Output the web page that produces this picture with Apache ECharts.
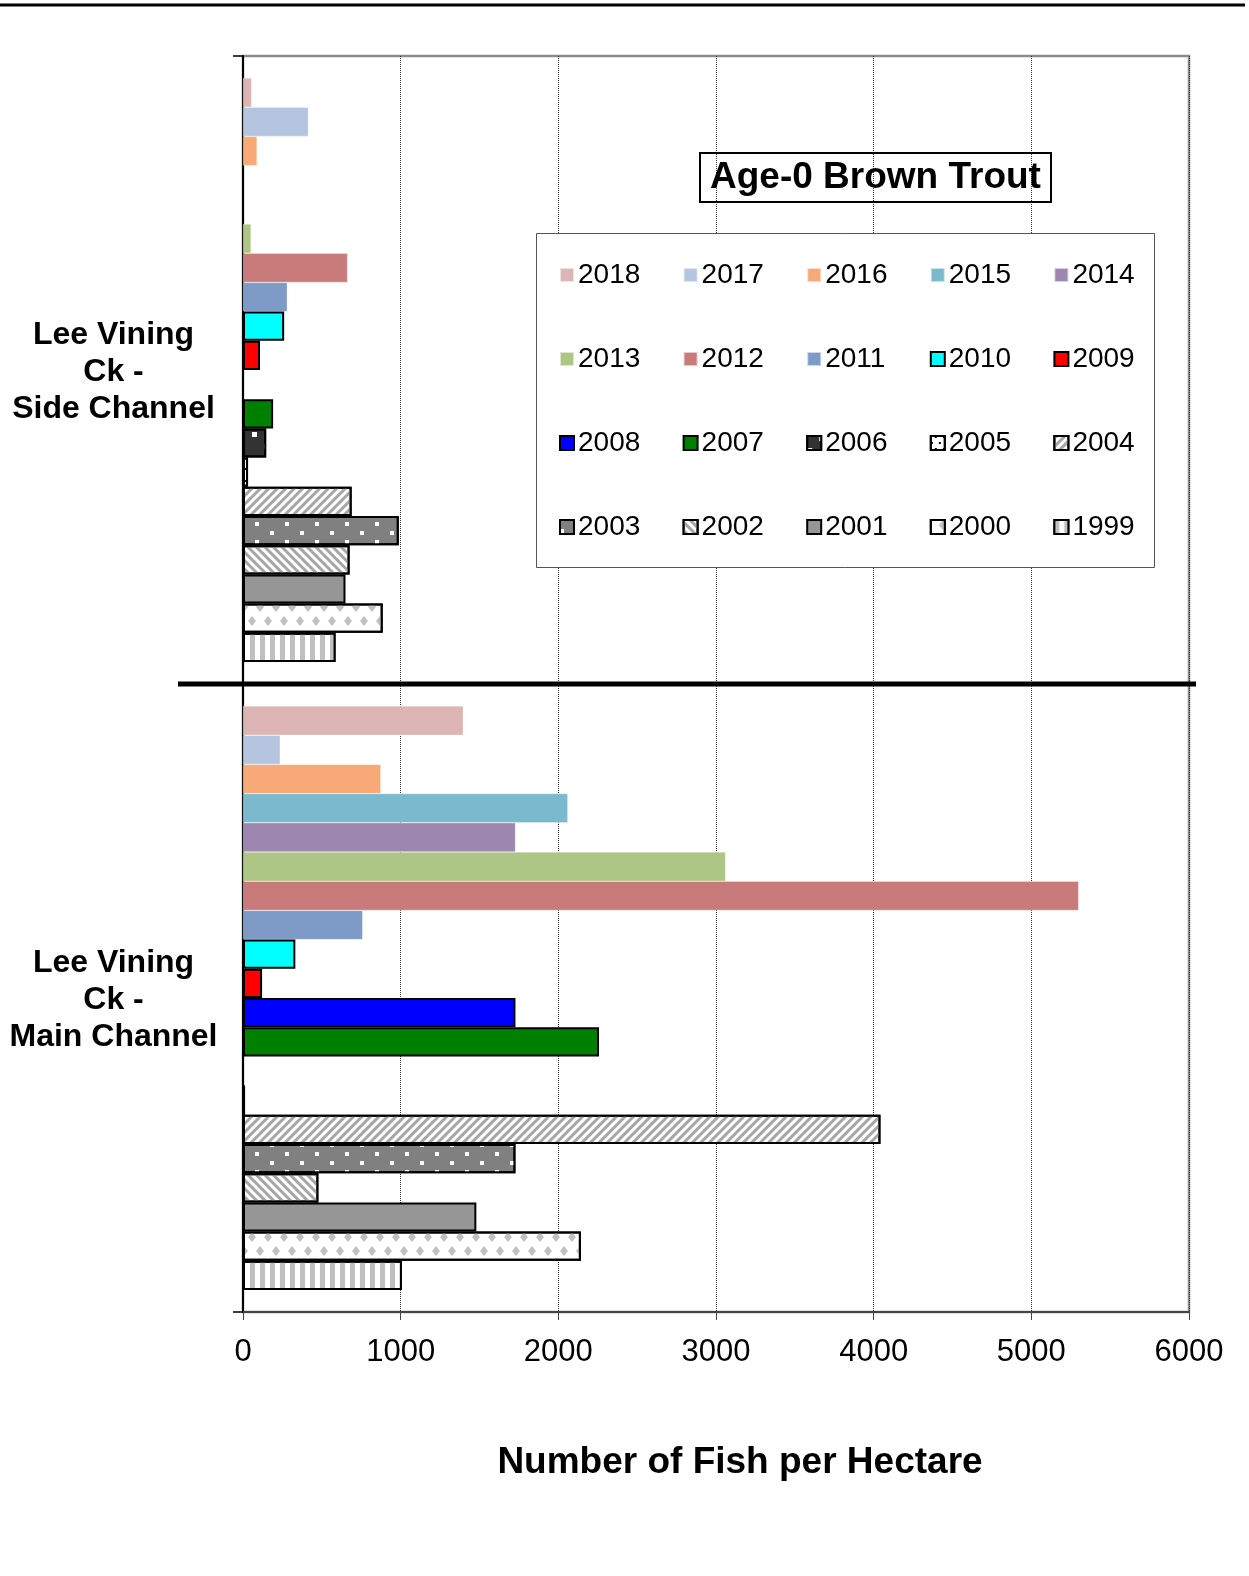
<!DOCTYPE html>
<html>
<head>
<meta charset="utf-8">
<script src="https://cdn.jsdelivr.net/npm/echarts@6/dist/echarts.min.js"></script>
<style>
html,body{margin:0;padding:0;background:#ffffff;}
#chart{width:1249px;height:1576px;}
</style>
</head>
<body>
<div id="chart"></div>
<script>
// ---- data ----
const categories = ['Lee Vining\nCk -\nSide Channel', 'Lee Vining\nCk -\nMain Channel'];
const years = ['2018','2017','2016','2015','2014','2013','2012','2011','2010','2009',
               '2008','2007','2006','2005','2004','2003','2002','2001','2000','1999'];
const sideChannel = [55, 415, 89, null, null, 51, 663, 281, 261, 108,
                     null, 191, 147, 32, 689, 988, 676, 650, 886, 587];
const mainChannel = [1397, 236, 874, 2060, 1728, 3061, 5300, 759, 332, 121,
                     1728, 2258, null, 13, 4043, 1728, 478, 1480, 2143, 1008];
const xTicks = [0, 1000, 2000, 3000, 4000, 5000, 6000];
const titleText = 'Age-0 Brown Trout';
const xAxisTitle = 'Number of Fish per Hectare';

// ---- styles ----
const FONT = '"Liberation Sans", Arial, Helvetica, sans-serif';
const fills = {
  '2018': '#DEB5B5', '2017': '#B5C4DF', '2016': '#F8A978', '2015': '#7BBACE',
  '2014': '#9D87B1', '2013': '#AEC685', '2012': '#C97B7B', '2011': '#7E9BC8',
  '2010': '#00FFFF', '2009': '#FF0000', '2008': '#0000FF', '2007': '#008000',
  '2006': '#333333', '2005': '#FFFFFF', '2004': '#FFFFFF', '2003': '#808080',
  '2002': '#FFFFFF', '2001': '#969696', '2000': '#FFFFFF', '1999': '#FFFFFF'
};
const bordered = ['2010','2009','2008','2007','2006','2005','2004','2003','2002','2001','2000','1999'];
const decals = {
  '2006': {symbol:'rect', symbolSize:1, color:'#FFFFFF', dashArrayX:[[5,19],[0,12,5,7]], dashArrayY:[5,7]},
  '2005': {symbol:'rect', symbolSize:1, color:'#000000', dashArrayX:[[2,6],[0,4,2,2]], dashArrayY:[2,4]},
  '2004': {symbol:'rect', symbolSize:1, color:'#A6A6A6', dashArrayX:[1,0], dashArrayY:[3,3], rotation: -Math.PI/4},
  '2003': {symbol:'rect', symbolSize:1, color:'#FFFFFF', dashArrayX:[[4,26],[0,15,4,11]], dashArrayY:[4,5]},
  '2002': {symbol:'rect', symbolSize:1, color:'#A6A6A6', dashArrayX:[1,0], dashArrayY:[3,3], rotation: Math.PI/4},
  '2000': {symbol:'diamond', symbolSize:1, symbolKeepAspect:false, color:'#C0C0C0', dashArrayX:[[8,8],[0,8,8,0]], dashArrayY:[10,4]},
  '1999': {symbol:'rect', symbolSize:1, color:'#C0C0C0', dashArrayX:[5,5], dashArrayY:[1,0]}
};

const series = years.map((y, i) => {
  const b = bordered.indexOf(y) >= 0;
  const itemStyle = {
    color: fills[y],
    borderColor: b ? '#000000' : 'rgba(255,255,255,0.6)',
    borderWidth: b ? 2 : 0.5
  };
  if (decals[y]) itemStyle.decal = decals[y];
  return {
    name: y,
    type: 'bar',
    data: [sideChannel[i], mainChannel[i]],
    barGap: '0%',
    barCategoryGap: '7%',
    itemStyle: itemStyle,
    emphasis: {disabled: true}
  };
});

// legend: 4 rows x 5 columns
const legendLeft0 = 559, legendColStep = 123.6;
const legendRowCenters = [275, 359, 443, 527];
const legends = years.map((y, i) => ({
  data: [y],
  left: legendLeft0 + (i % 5) * legendColStep,
  top: legendRowCenters[Math.floor(i / 5)] - 14,
  padding: 0,
  itemGap: 0,
  itemWidth: 14,
  itemHeight: 14,
  icon: 'rect',
  selectedMode: false,
  textStyle: {fontSize: 28, fontFamily: FONT, color: '#000000', padding: [0, 0, 0, -1]}
}));

const chart = echarts.init(document.getElementById('chart'), null, {renderer: 'canvas'});
chart.setOption({
  animation: false,
  backgroundColor: '#ffffff',
  title: {
    text: titleText,
    left: 700, top: 153,
    borderColor: '#000000', borderWidth: 2,
    padding: [6, 10],
    textStyle: {fontSize: 37, fontWeight: 'bold', fontFamily: FONT, color: '#000000', lineHeight: 37}
  },
  legend: legends,
  grid: {
    left: 243, right: 60, top: 56, bottom: 264,
    show: true, borderColor: '#8C8C8C', borderWidth: 2.5,
    containLabel: false
  },
  xAxis: {
    type: 'value',
    min: xTicks[0], max: xTicks[xTicks.length - 1], interval: xTicks[1] - xTicks[0],
    axisLine: {show: true, lineStyle: {color: '#444444', width: 2}},
    axisTick: {show: true, length: 8, lineStyle: {color: '#444444', width: 1}},
    axisLabel: {fontSize: 31, fontFamily: FONT, color: '#000000', margin: 25,
                formatter: function (v) { return String(v); }},
    splitLine: {show: true, lineStyle: {type: 'dotted', color: '#333333', width: 1}},
    name: xAxisTitle,
    nameLocation: 'middle',
    nameGap: 132,
    nameTextStyle: {fontSize: 37, fontWeight: 'bold', fontFamily: FONT, color: '#000000', padding: [0, 0, 0, 48]}
  },
  yAxis: {
    type: 'category',
    inverse: true,
    data: categories,
    axisLine: {show: true, lineStyle: {color: '#000000', width: 2}},
    axisTick: {show: true, length: 10, lineStyle: {color: '#000000', width: 1.5}},
    axisLabel: {
      align: 'center', margin: 129.5,
      formatter: function (v) {
        return v.split('\n').map(function (s) { return '{t|' + s + '}'; }).join('\n');
      },
      rich: {
        t: {fontSize: 32, fontWeight: 'bold', fontFamily: FONT, color: '#000000',
            lineHeight: 37, padding: [4, 0, 0, 0], align: 'center'}
      }
    },
    splitLine: {show: false}
  },
  graphic: [
    {type: 'line', z: 100, shape: {x1: 0, y1: 5, x2: 1245, y2: 5}, style: {stroke: '#000000', lineWidth: 3}},
    {type: 'line', z: 100, shape: {x1: 178, y1: 684, x2: 1196, y2: 684}, style: {stroke: '#000000', lineWidth: 5}},
    {type: 'rect', z: 1, shape: {x: 536.5, y: 233.5, width: 618, height: 334}, style: {fill: '#ffffff', stroke: '#555555', lineWidth: 1}}
  ],
  series: series
});
</script>
</body>
</html>
